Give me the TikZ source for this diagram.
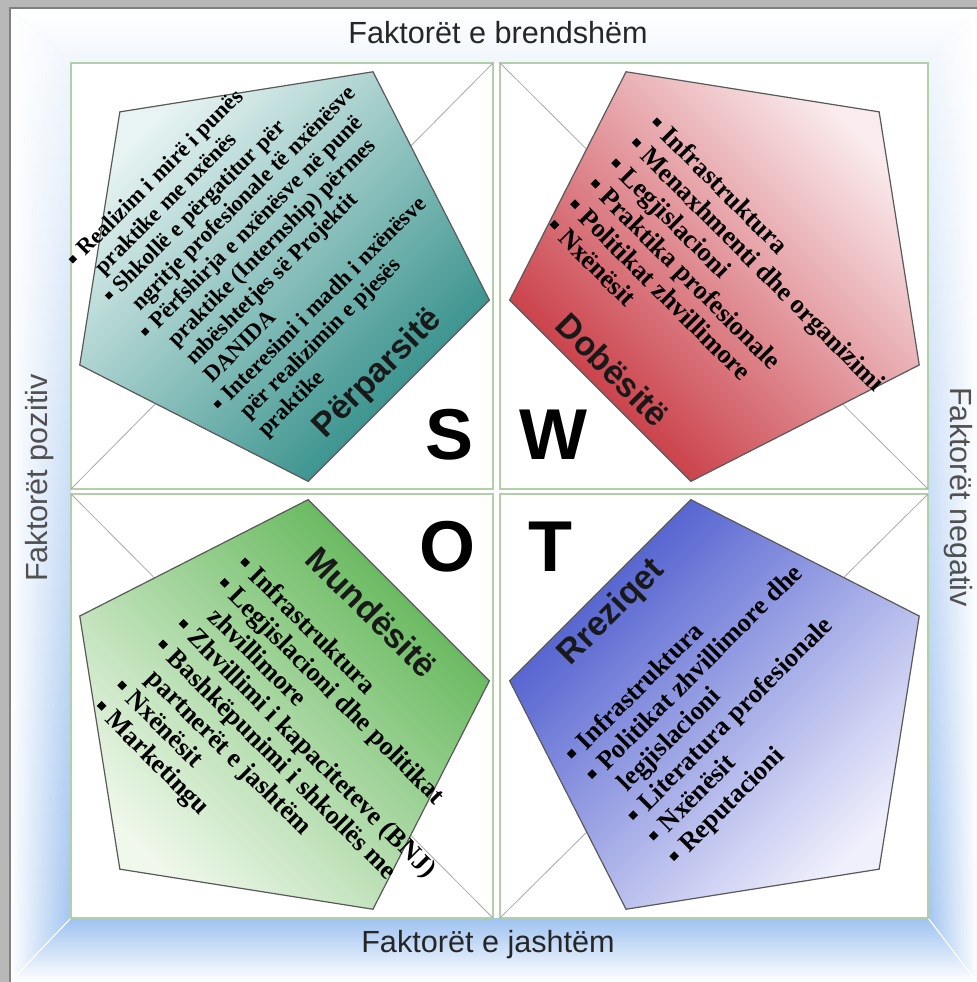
\documentclass[tikz,border=0pt]{standalone}
\usepackage{fontspec}
\setmainfont{Liberation Serif}
\setsansfont{Liberation Sans}
\usetikzlibrary{shapes.geometric,fadings}
\definecolor{frameblue}{RGB}{158,194,240}
\definecolor{quadgreen}{RGB}{178,208,168}
\definecolor{diaggray}{RGB}{170,170,170}
\definecolor{labelgray}{RGB}{80,80,80}
\definecolor{tealdark}{RGB}{42,138,132}
\definecolor{teallight}{RGB}{232,244,243}
\definecolor{reddark}{RGB}{198,48,58}
\definecolor{redlight}{RGB}{250,236,238}
\definecolor{greendark}{RGB}{92,180,82}
\definecolor{greenlight}{RGB}{240,248,236}
\definecolor{bluedark}{RGB}{70,86,204}
\definecolor{bluelight}{RGB}{240,240,252}
\newcommand\bul{\makebox[0.6em][l]{\rule[0.2em]{0.26em}{0.26em}}}
\newcommand\ind{\makebox[0.6em]{}}
\begin{document}
\begin{tikzpicture}[
 x=0.5pt, y=-0.5pt,
 quad/.style={draw=quadgreen,line width=0.6pt},
 diag/.style={draw=diaggray,line width=0.4pt},
 penta/.style={regular polygon,regular polygon sides=5,minimum size=218pt,inner sep=0pt,outer sep=0pt,draw=black!65,line width=0.6pt},
 items/.style={align=left,inner sep=0pt,font=\fontsize{13.2pt}{14.5pt}\selectfont\bfseries},
 smallitems/.style={align=left,inner sep=0pt,font=\fontsize{11.4pt}{12.8pt}\selectfont\bfseries},
 title/.style={inner sep=0pt,text=black!90,font=\sffamily\bfseries\fontsize{17pt}{17pt}\selectfont},
 letter/.style={inner sep=0pt,font=\sffamily\bfseries\fontsize{36pt}{36pt}\selectfont},
 side/.style={inner sep=0pt,text=labelgray,font=\sffamily\fontsize{15.3pt}{16pt}\selectfont}
]
\useasboundingbox (0,0) rectangle (977,982);
\fill[black!28] (0,0) rectangle (977,982);
\fill[white] (10,8) rectangle (977,982);
\shade[top color=white,bottom color=frameblue!15] (10,8) -- (977,8) -- (928,63) -- (71,63) -- cycle;
\shade[top color=frameblue!10,bottom color=frameblue] (10,8) -- (71,63) -- (71,918) -- (10,982) -- cycle;
\fill[white,path fading=east] (10,8) -- (71,63) -- (71,918) -- (10,982) -- cycle;
\shade[top color=frameblue!10,bottom color=frameblue] (977,8) -- (977,982) -- (928,918) -- (928,63) -- cycle;
\fill[white,path fading=west] (977,8) -- (977,982) -- (928,918) -- (928,63) -- cycle;
\shade[top color=frameblue,bottom color=white] (10,982) -- (71,918) -- (928,918) -- (977,982) -- cycle;
\draw[white,line width=0.6pt] (71,918) -- (10,982) (928,918) -- (977,982);
\draw[black!50,line width=0.6pt] (10,982) -- (10,8) -- (977,8);

\fill[white] (71,63) rectangle (928,918);
\draw[quad] (71,63) rectangle (493,489);
\draw[quad] (500,63) rectangle (928,489);
\draw[quad] (71,494) rectangle (493,918);
\draw[quad] (500,494) rectangle (928,918);
\draw[diag] (71,489) -- (493,63);
\draw[diag] (500,63) -- (928,489);
\draw[diag] (928,494) -- (500,918);
\draw[diag] (493,918) -- (71,494);

\node (s-shape) [penta,rotate=45,top color=teallight,bottom color=tealdark,shading angle=45] at (274,266) {};
\node (w-shape) [penta,rotate=-45,top color=redlight,bottom color=reddark,shading angle=-45] at (725,266) {};
\node (o-shape) [penta,rotate=135,top color=greenlight,bottom color=greendark,shading angle=135] at (274,715) {};
\node (t-shape) [penta,rotate=-135,top color=bluelight,bottom color=bluedark,shading angle=-135] at (725,715) {};

\node (s-list) [smallitems,rotate=45] at (276,240) {\bul Realizim i mirë i punës\\\ind praktike me nxënës\\
 \bul Shkollë e përgatitur për\\\ind ngritje profesionale të nxënësve\\
 \bul Përfshirja e nxënësve në punë\\\ind praktike (Internship) përmes\\\ind mbështetjes së Projektit\\\ind DANIDA\\
 \bul Interesimi i madh i nxënësve\\\ind për realizimin e pjesës\\\ind praktike};
\node (w-list) [items,rotate=-45] at (727,294) {\bul Infrastruktura\\ \bul Menaxhmenti dhe organizimi\\
 \bul Legjislacioni\\ \bul Praktika profesionale\\ \bul Politikat zhvillimore\\ \bul Nxënësit};
\node (o-list) [items,rotate=-45] at (295,759) {\bul Infrastruktura\\ \bul Legjislacioni dhe politikat\\\ind zhvillimore\\
 \bul Zhvillimi i kapaciteteve (BNJ)\\ \bul Bashkëpunimi i shkollës me\\\ind partnerët e jashtëm\\
 \bul Nxënësit\\ \bul Marketingu};
\node (t-list) [items,rotate=45] at (726,705) {\bul Infrastruktura\\ \bul Politikat zhvillimore dhe\\\ind legjislacioni\\
 \bul Literatura profesionale\\ \bul Nxënësit\\ \bul Reputacioni};

\node (s-title) [title,rotate=45] at (378,374) {Përparsitë};
\node (w-title) [title,rotate=-45] at (613,370) {Dobësitë};
\node (o-title) [title,rotate=-45] at (372,612) {Mundësitë};
\node (t-title) [title,rotate=45] at (612,613) {Rreziqet};

\node (s-letter) [letter] at (450,435) {S};
\node (w-letter) [letter] at (553,435) {W};
\node (o-letter) [letter] at (448,547) {O};
\node (t-letter) [letter] at (550,547) {T};

\node (top-label) [side,text=black!85] at (498,33) {Faktorët e brendshëm};
\node (bottom-label) [side,text=black!85] at (488,945) {Faktorët e jashtëm};
\node (left-label) [side,rotate=90] at (40,478) {Faktorët pozitiv};
\node (right-label) [side,rotate=-90] at (958,497) {Faktorët negativ};
\end{tikzpicture}
\end{document}
